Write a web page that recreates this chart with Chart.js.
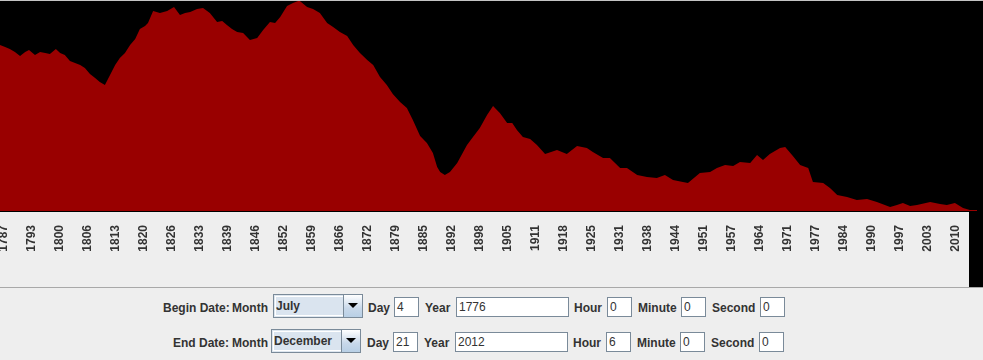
<!DOCTYPE html>
<html>
<head>
<meta charset="utf-8">
<script src="https://cdn.jsdelivr.net/npm/chart.js@4.4.1/dist/chart.umd.min.js"></script>
<style>
  html, body { margin: 0; padding: 0; background: #eeeeee; width: 983px; height: 360px; overflow: hidden; }
  #wrap { position: absolute; left: 0; top: 0; width: 983px; height: 287px; }
  #panel { position: absolute; left: 0; top: 287px; width: 983px; height: 73px; background: #eeeeee; border-top: 1px solid #a8a8a8; box-sizing: border-box; }
  .lbl { position: absolute; font: bold 12px "Liberation Sans", Arial, sans-serif; color: #333333; line-height: 14px; white-space: nowrap; }
  .fld { position: absolute; background: #ffffff; border: 1px solid #7a8a99; box-sizing: border-box; font: 12px "Liberation Sans", Arial, sans-serif; color: #333333; padding-left: 2px; line-height: 18px; }
  .combo { position: absolute; box-sizing: border-box; border: 1px solid #7a8a99; background: #dde6ef; height: 24px; }
  .combo .txt { position: absolute; left: 2px; top: 4px; font: bold 12px "Liberation Sans", Arial, sans-serif; color: #333333; line-height: 14px; }
  .combo .inner { position: absolute; left: 1px; top: 1px; right: 19px; bottom: 1px; border: 1px solid #ffffff; border-right: none; box-sizing: border-box; background: #dae4ef; }
  .combo .btn { position: absolute; right: 0; top: 0; width: 19px; height: 22px; box-sizing: border-box; border-left: 1px solid #7a8a99; background: linear-gradient(#ffffff, #c8d8ea 60%, #b8cfe5); }
  .combo .btn:after { content: ""; position: absolute; left: 4px; top: 8px; border-left: 5px solid transparent; border-right: 5px solid transparent; border-top: 5px solid #000000; }
</style>
</head>
<body>
<div id="wrap"><canvas id="c" width="983" height="287"></canvas></div>
<div id="panel"></div>
<script>
// ---- data ----
const years = [
  1786.3, 1787.5, 1788.6, 1789.8, 1791.0, 1792.2, 1793.1, 1794.5, 1795.7, 1796.9,
  1798.0, 1799.4, 1800.4, 1801.5, 1802.7, 1803.9, 1805.1, 1806.2, 1807.4, 1808.6,
  1809.7, 1810.9, 1812.1, 1813.3, 1814.4, 1815.6, 1816.8, 1818.0, 1819.1, 1820.3,
  1821.0, 1822.2, 1823.8, 1825.5, 1827.1, 1828.5, 1829.7, 1830.9, 1832.5, 1833.9,
  1835.5, 1837.2, 1838.4, 1839.5, 1840.7, 1841.9, 1843.3, 1844.9, 1846.6, 1848.0,
  1849.6, 1850.8, 1852.0, 1853.6, 1855.0, 1856.2, 1856.6, 1858.3, 1859.7, 1861.3,
  1863.0, 1864.4, 1866.0, 1867.7, 1869.1, 1870.7, 1872.4, 1873.8, 1875.4, 1877.0,
  1878.4, 1880.1, 1881.7, 1883.1, 1884.8, 1886.4, 1887.8, 1888.8, 1889.5, 1890.6,
  1891.8, 1893.5, 1894.9, 1895.8, 1897.2, 1898.8, 1900.5, 1901.9, 1903.5, 1905.2,
  1906.4, 1907.5, 1908.9, 1910.6, 1912.2, 1914.1, 1915.5, 1916.9, 1919.2, 1921.6,
  1923.9, 1925.3, 1927.7, 1929.3, 1931.7, 1933.3, 1935.7, 1938.0, 1940.3, 1942.2,
  1944.1, 1946.4, 1947.6, 1950.4, 1952.8, 1954.4, 1956.3, 1958.2, 1959.8, 1962.2,
  1963.8, 1965.2, 1966.8, 1969.2, 1970.4, 1972.2, 1973.9, 1975.8, 1976.9, 1979.3,
  1980.9, 1982.6, 1984.9, 1987.2, 1989.6, 1991.9, 1995.0, 1996.6, 1998.0, 1999.7,
  2001.3, 2004.4, 2006.7, 2008.3, 2010.2, 2012.1, 2013.7, 2015.4
];
const values = [
  79.0, 78.1, 77.1, 75.7, 73.8, 75.7, 76.7, 74.3, 75.7, 75.2,
  74.8, 77.1, 75.2, 74.3, 71.4, 70.5, 69.5, 68.1, 65.2, 63.3,
  61.4, 60.0, 64.8, 69.5, 72.9, 75.2, 79.0, 81.9, 86.7, 88.1,
  89.5, 95.2, 94.3, 95.2, 97.1, 93.3, 94.3, 94.8, 96.2, 96.7,
  94.3, 90.0, 90.5, 88.6, 86.7, 85.2, 84.8, 81.4, 82.4, 86.2,
  90.0, 89.5, 92.4, 97.6, 99.0, 100.0, 100.0, 97.1, 96.2, 94.3,
  89.5, 87.6, 85.2, 83.3, 79.0, 75.2, 71.9, 69.5, 63.8, 60.0,
  55.7, 51.9, 49.0, 43.3, 35.7, 32.4, 27.6, 21.0, 18.6, 17.1,
  18.6, 22.9, 28.1, 31.4, 35.2, 39.5, 45.7, 50.0, 46.7, 41.9,
  41.9, 38.6, 35.2, 34.3, 31.4, 27.1, 28.1, 29.0, 27.1, 31.0,
  30.0, 28.1, 25.2, 25.2, 20.5, 20.5, 17.1, 16.2, 15.7, 17.1,
  14.8, 13.8, 13.3, 18.1, 18.6, 20.5, 21.9, 21.4, 23.3, 22.9,
  26.7, 24.3, 27.1, 30.0, 30.5, 26.2, 21.9, 20.5, 13.8, 13.3,
  11.0, 7.6, 6.7, 5.2, 5.7, 4.3, 1.9, 2.9, 3.8, 2.4,
  2.9, 4.3, 3.3, 2.9, 3.8, 1.4, 0.5, 0.5
];
const tickLabels = [
  '1787', '1793', '1800', '1806', '1813', '1820', '1826', '1833', '1839', '1846',
  '1852', '1859', '1866', '1872', '1879', '1885', '1892', '1898', '1905', '1911',
  '1918', '1925', '1931', '1938', '1944', '1951', '1957', '1964', '1971', '1977',
  '1984', '1990', '1997', '2003', '2010'
];
const tickStart = 1787.24;
const tickStep = 6.565;
const xMin = 1786.30;
const xMax = 2016.78;

// ---- form texts ----
const rows = [
  { title: 'Begin Date:', month: 'July', day: '4', year: '1776', hour: '0', minute: '0', second: '0' },
  { title: 'End Date:', month: 'December', day: '21', year: '2012', hour: '6', minute: '0', second: '0' }
];

// ---- chart ----
const bgPlugin = {
  id: 'bg',
  beforeDraw(chart) {
    const c = chart.ctx, a = chart.chartArea;
    c.save();
    c.fillStyle = '#000000';
    c.fillRect(0, 0, chart.width, chart.height);
    c.fillStyle = '#eeeeee';
    c.fillRect(0, a.bottom + 1, 969, chart.height - a.bottom - 1);
    c.fillStyle = '#c4c4c4';
    c.fillRect(0, 0, chart.width, 1);
    c.restore();
  }
};

new Chart(document.getElementById('c'), {
  type: 'line',
  data: {
    datasets: [{
      data: years.map((y, i) => ({ x: y, y: values[i] })),
      fill: 'origin',
      backgroundColor: '#990000',
      borderColor: '#990000',
      borderWidth: 0,
      pointRadius: 0,
      tension: 0
    }]
  },
  options: {
    responsive: false,
    animation: false,
    layout: { padding: { top: 1, left: 0, right: 0, bottom: 0 } },
    plugins: { legend: { display: false }, tooltip: { enabled: false } },
    scales: {
      x: {
        type: 'linear',
        min: xMin,
        max: xMax,
        grid: { display: false },
        border: { display: true, color: '#000000', width: 1, z: 1 },
        afterBuildTicks(scale) {
          scale.ticks = tickLabels.map((l, i) => ({ value: tickStart + i * tickStep }));
        },
        afterFit(scale) {
          scale.height = 76;
          scale.paddingLeft = 0;
          scale.paddingRight = 0;
        },
        ticks: {
          autoSkip: false,
          minRotation: 90,
          maxRotation: 90,
          padding: 6,
          color: '#333333',
          font: { family: 'Liberation Sans', size: 12, weight: 'bold' },
          callback: (v, i) => tickLabels[i]
        }
      },
      y: { display: false, min: 0, max: 100 }
    }
  },
  plugins: [bgPlugin]
});

// ---- form panel ----
const panel = document.getElementById('panel');
const layout = [
  { top: 7, titleLeft: 163, monthLeft: 232, comboLeft: 273, dayL: 368, dayF: 394, yearL: 425, yearF: 456, hourL: 574, hourF: 607, minL: 638, minF: 681, secL: 712, secF: 760 },
  { top: 42, titleLeft: 173, monthLeft: 232, comboLeft: 271, dayL: 367, dayF: 393, yearL: 424, yearF: 455, hourL: 573, hourF: 606, minL: 637, minF: 680, secL: 711, secF: 759 }
];
function add(cls, left, top, text, w, h) {
  const d = document.createElement('div');
  d.className = cls;
  d.style.left = left + 'px';
  d.style.top = top + 'px';
  if (w) d.style.width = w + 'px';
  if (h) d.style.height = h + 'px';
  d.textContent = text;
  panel.appendChild(d);
  return d;
}
rows.forEach((r, k) => {
  const p = layout[k];
  const ly = p.top + 6;
  add('lbl', p.titleLeft, ly, r.title);
  add('lbl', p.monthLeft, ly, 'Month');
  const cb = document.createElement('div');
  cb.className = 'combo';
  cb.style.left = p.comboLeft + 'px';
  cb.style.top = (p.top - 1) + 'px';
  cb.style.width = '90px';
  cb.innerHTML = '<div class="inner"></div><div class="txt"></div><div class="btn"></div>';
  cb.querySelector('.txt').textContent = r.month;
  panel.appendChild(cb);
  add('lbl', p.dayL, ly, 'Day');
  add('fld', p.dayF, p.top + 2, r.day, 25, 20);
  add('lbl', p.yearL, ly, 'Year');
  add('fld', p.yearF, p.top + 2, r.year, 113, 20);
  add('lbl', p.hourL, ly, 'Hour');
  add('fld', p.hourF, p.top + 2, r.hour, 25, 20);
  add('lbl', p.minL, ly, 'Minute');
  add('fld', p.minF, p.top + 2, r.minute, 25, 20);
  add('lbl', p.secL, ly, 'Second');
  add('fld', p.secF, p.top + 2, r.second, 25, 20);
});
</script>
</body>
</html>
